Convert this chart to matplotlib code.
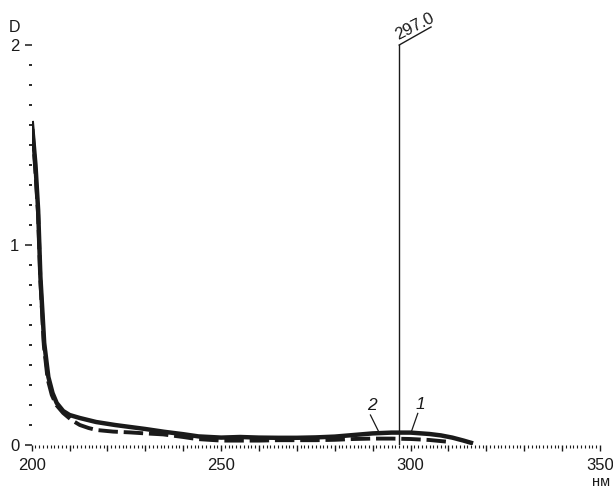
"""
UV absorption spectrum, two curves (1 solid, 2 dashed) with the
297.0 nm maximum marked by a vertical line.
"""
import matplotlib
matplotlib.use("Agg")
import matplotlib.pyplot as plt
from matplotlib.ticker import MultipleLocator, FuncFormatter

plt.rcParams["font.family"] = ["Liberation Sans", "DejaVu Sans"]

C_INK = "#1a1a1a"

# -- Data ------------------------------------------------------------------
wl_1 = [200, 201, 201.7, 202.3, 203.3, 204.4, 205.5, 206.6, 208.3, 210,
        212.7, 217, 222, 226, 230, 235, 240, 244, 250, 255, 260, 265, 270,
        275, 280, 285, 290, 295, 300, 305, 308, 311, 314, 316.5]
d_1 = [1.62, 1.40, 1.175, 0.84, 0.51, 0.34, 0.26, 0.21, 0.17, 0.15,
       0.135, 0.115, 0.10, 0.09, 0.08, 0.066, 0.054, 0.043, 0.037, 0.04,
       0.037, 0.036, 0.036, 0.038, 0.042, 0.05, 0.058, 0.062, 0.062, 0.055,
       0.048, 0.037, 0.022, 0.008]

wl_2 = [200.2, 201, 201.7, 202.3, 203.2, 204.2, 205.3, 206.5, 208.3, 210.5,
        212.7, 215, 217.1, 221.5, 225.9, 230, 234.7, 240, 243.5, 250, 255,
        260, 265, 270, 275, 280, 285, 290, 295, 300, 305, 310.5]
d_2 = [1.58, 1.36, 1.15, 0.82, 0.50, 0.33, 0.25, 0.20, 0.16, 0.125,
       0.10, 0.085, 0.075, 0.067, 0.063, 0.058, 0.053, 0.04, 0.03, 0.022,
       0.022, 0.022, 0.024, 0.024, 0.024, 0.026, 0.03, 0.032, 0.032, 0.03,
       0.025, 0.015]

peak_wl = 297.0
peak_label = "297.0"
x_labels = [200, 250, 300, 350]
y_labels = [0, 1, 2]

fig = plt.figure(figsize=(6.13, 4.88), dpi=100)
ax = fig.add_axes([31.7 / 613, 43 / 488, (600 - 31.7) / 613, 400 / 488])

ax.plot(wl_1, d_1, color=C_INK, linewidth=3.2, solid_capstyle="butt", zorder=3)
ax.plot(wl_2, d_2, color=C_INK, linewidth=2.8, dashes=(5, 1.5), zorder=2)

# -- Peak marker -------------------------------------------------------------
ax.plot([peak_wl, peak_wl], [0, 2], color=C_INK, linewidth=1.0, zorder=4)
ax.plot([peak_wl, 305.4], [2, 2.09], color=C_INK, linewidth=1.0,
        clip_on=False)
ax.text(peak_wl + 0.1, 2.012, peak_label, rotation=27, rotation_mode="anchor",
        ha="left", va="bottom", fontsize=12, color=C_INK, clip_on=False)

# -- Curve labels with leaders ------------------------------------------------
ax.plot([289.4, 291.6], [0.15, 0.066], color=C_INK, linewidth=0.9)
ax.text(289.7, 0.158, "2", fontsize=12.5, style="italic", ha="center",
        va="bottom", color=C_INK)
ax.plot([301.9, 300.2], [0.158, 0.066], color=C_INK, linewidth=0.9)
ax.text(302.7, 0.163, "1", fontsize=12.5, style="italic", ha="center",
        va="bottom", color=C_INK)

# -- Axes ----------------------------------------------------------------------
ax.set_xlim(200, 350)
ax.set_ylim(0, 2)
for s in ax.spines.values():
    s.set_visible(False)

ax.xaxis.set_major_locator(MultipleLocator(10))
ax.xaxis.set_minor_locator(MultipleLocator(1))
ax.xaxis.set_major_formatter(
    FuncFormatter(lambda v, _: f"{v:.0f}" if round(v) in x_labels else ""))
ax.yaxis.set_major_locator(MultipleLocator(1))
ax.yaxis.set_minor_locator(MultipleLocator(0.1))
ax.yaxis.set_major_formatter(
    FuncFormatter(lambda v, _: f"{v:.0f}" if round(v) in y_labels else ""))

ax.tick_params(axis="x", which="major", direction="out", length=4.5,
               width=1.0, color=C_INK, labelsize=12, pad=5, labelcolor=C_INK)
ax.tick_params(axis="x", which="minor", direction="out", length=2.5,
               width=0.8, color=C_INK)
ax.tick_params(axis="y", which="major", direction="out", length=5,
               width=1.1, color=C_INK, labelsize=12, pad=4, labelcolor=C_INK)
ax.tick_params(axis="y", which="minor", direction="out", length=2.2,
               width=1.3, color=C_INK)

fig.text(14 / 613, 1 - 28 / 488, "D", fontsize=11.5, ha="center",
         va="center", color=C_INK)
fig.text(601 / 613, 1 - 482 / 488, "нм", fontsize=10.5, ha="center",
         va="center", color=C_INK)

fig.savefig("out.png", dpi=100, facecolor="white")
